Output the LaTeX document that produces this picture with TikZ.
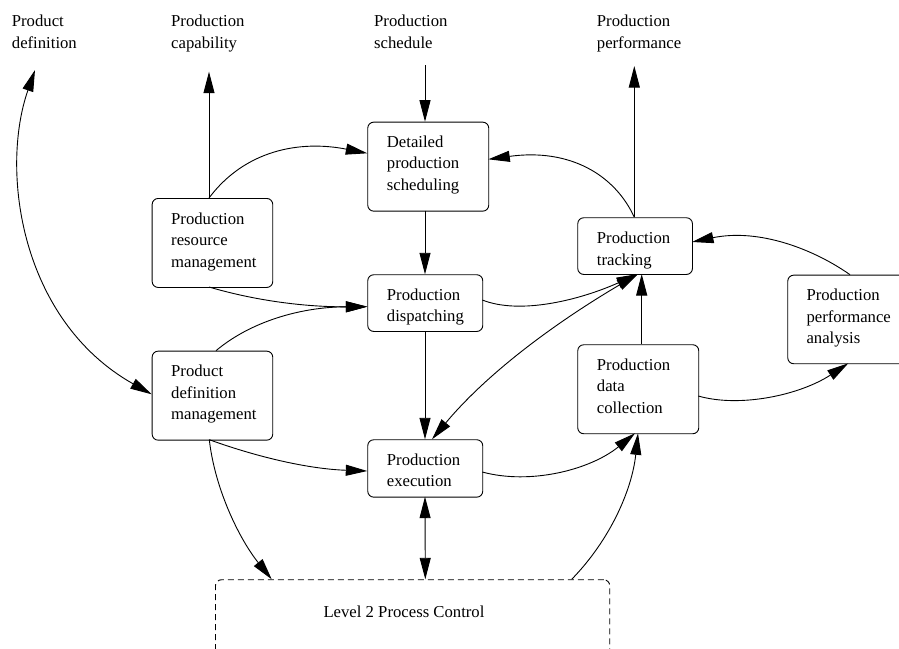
\documentclass[tikz,border=0pt]{standalone}
\usepackage{fontspec}
\setmainfont{Liberation Serif}
\usetikzlibrary{arrows.meta,calc}
\begin{document}
\begin{tikzpicture}[x=1pt,y=-1pt,
  box/.style={draw, rounded corners=6pt, line width=0.9pt, inner sep=0pt, anchor=north west},
  l2box/.style={draw, rounded corners=6pt, line width=0.9pt, dash pattern=on 6pt off 4pt, inner sep=0pt, anchor=north west},
  txt/.style={font=\fontsize{16.7}{21.5}\selectfont, align=left, anchor=base west, inner sep=0pt},
  conn/.style={line width=0.9pt, -{Triangle[length=21.5pt,width=11pt]}},
  bconn/.style={line width=0.9pt, {Triangle[length=21.5pt,width=11pt]}-{Triangle[length=21.5pt,width=11pt]}},
]
\useasboundingbox (0,0) rectangle (899,648);

% top labels (anchor = baseline of last line)
\node[txt] (lpdef) at (11.7,48) {Product\\definition};
\node[txt] (lcap) at (171,48) {Production\\capability};
\node[txt] (lsch) at (374,48) {Production\\schedule};
\node[txt] (lperf) at (596.7,48) {Production\\performance};
\coordinate (pdefend) at (35,70);
\coordinate (capend) at (209,71.7);
\coordinate (schstart) at (425,65);
\coordinate (perfend) at (634.3,66);

% boxes
\node[box, minimum width=121pt, minimum height=89pt] (dps) at (367.3,121.7) {};
\node[box, minimum width=120.6pt, minimum height=89pt] (prm) at (151.7,198) {};
\node[box, minimum width=115pt, minimum height=56.7pt] (pdisp) at (367.3,274.3) {};
\node[box, minimum width=114.7pt, minimum height=56.7pt] (ptrk) at (577.3,217.3) {};
\node[box, minimum width=123pt, minimum height=88.6pt] (ppa) at (787.3,274.7) {};
\node[box, minimum width=120.6pt, minimum height=89pt] (pdm) at (151.7,350.7) {};
\node[box, minimum width=121pt, minimum height=89pt] (pdc) at (577.3,344.3) {};
\node[box, minimum width=115pt, minimum height=57.4pt] (pexe) at (367.3,439.3) {};
\node[l2box, minimum width=394.3pt, minimum height=90pt] (l2) at (215,579.3) {};

% box texts (anchor = baseline of last line)
\node[txt] (tdps) at (386.7,190.4) {Detailed\\production\\scheduling};
\node[txt] (tprm) at (171,267) {Production\\resource\\management};
\node[txt] (tpdisp) at (386.7,321.5) {Production\\dispatching};
\node[txt] (tptrk) at (596.7,265) {Production\\tracking};
\node[txt] (tppa) at (806.3,343.5) {Production\\performance\\analysis};
\node[txt] (tpdm) at (171,419.7) {Product\\definition\\management};
\node[txt] (tpdc) at (596.7,413) {Production\\data\\collection};
\node[txt] (tpexe) at (386.7,486.5) {Production\\execution};
\node[txt] (tl2) at (323.3,617.7) {Level 2 Process Control};

% connectors
\draw[bconn] (pdefend) .. controls (0,170) and (20,320) .. ($(pdm.north west)+(0,43.6)$);
\draw[conn] ($(prm.north west)+(57.3,0)$) -- (capend);
\draw[conn] (schstart) -- ($(dps.north west)+(57.7,0)$);
\draw[conn] ($(prm.north west)+(57.3,0)$) .. controls (245,150) and (300,140) .. ($(dps.north west)+(0,31.6)$);
\draw[conn] ($(dps.north west)+(57.7,89)$) -- ($(pdisp.north west)+(57.7,0)$);
\draw[conn] ($(ptrk.north west)+(57,0)$) .. controls (615,175) and (570,148) .. ($(dps.north west)+(121,37.6)$);
\draw[conn] ($(ptrk.north west)+(57,0)$) -- (perfend);
\draw[conn] ($(ppa.north west)+(62.7,0)$) .. controls (815,250) and (760,228) .. ($(ptrk.north west)+(114.7,24.7)$);
\draw[conn] ($(pdc.north west)+(121,51.7)$) .. controls (740,408) and (800,395) .. ($(ppa.north west)+(61,88.6)$);
\draw[conn] ($(pdc.north west)+(64.4,0)$) -- ($(ptrk.north west)+(64.4,56.7)$);
\draw[conn] ($(pdisp.north west)+(115,25.7)$) .. controls (520,315) and (580,300) .. ($(ptrk.north west)+(60.7,56.7)$);
\draw[bconn] ($(ptrk.north west)+(60.7,56.7)$) .. controls (560,320) and (490,370) .. ($(pexe.north west)+(64.7,0)$);
\draw[conn] ($(pdisp.north west)+(57.7,56.7)$) -- ($(pexe.north west)+(57.7,0)$);
\draw[conn] ($(prm.north west)+(57.3,89)$) .. controls (260,302) and (310,307) .. ($(pdisp.north west)+(0,32.4)$);
\draw[conn] ($(pdm.north west)+(64.3,0)$) .. controls (250,322) and (300,307) .. ($(pdisp.north west)+(0,32.4)$);
\draw[conn] ($(pdm.north west)+(57.6,89)$) .. controls (260,458) and (310,469) .. ($(pexe.north west)+(0,31.7)$);
\draw[conn] ($(pdm.north west)+(57.6,89)$) .. controls (215,490) and (240,540) .. ($(l2.north west)+(56.7,0)$);
\draw[bconn] ($(pexe.north west)+(57.7,57.4)$) -- ($(l2.north west)+(210.3,0)$);
\draw[conn] ($(l2.north west)+(356.7,0)$) .. controls (610,540) and (632,490) .. ($(pdc.north west)+(60.7,89)$);
\draw[conn] ($(pexe.north west)+(115,32.7)$) .. controls (530,485) and (590,470) .. ($(pdc.north west)+(57.7,89)$);
\end{tikzpicture}
\end{document}
